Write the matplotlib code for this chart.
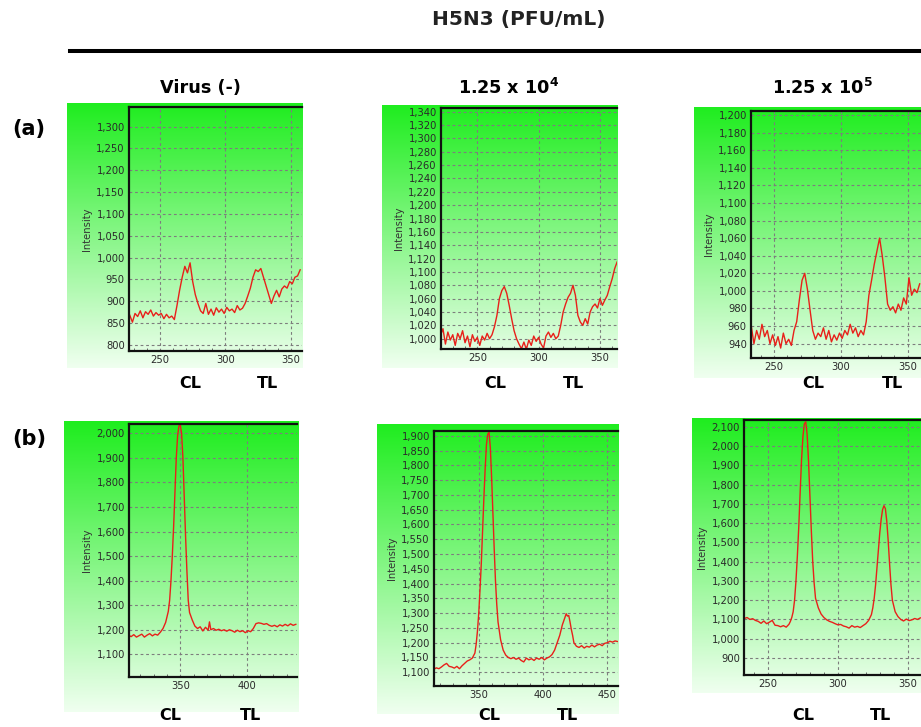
import numpy as np
import matplotlib
matplotlib.use("Agg")
import matplotlib.pyplot as plt
from matplotlib.ticker import FuncFormatter, MultipleLocator

plt.rcParams["font.family"] = ["DejaVu Sans"]
plt.rcParams["mathtext.fontset"] = "dejavusans"

W, H = 921, 727

# ---- data (x = position, y = intensity) ----
a1_x = [227, 229, 231, 233, 235, 237, 239, 241, 243, 245, 247, 249, 251, 253, 255, 257, 259, 261, 263, 265,
        267, 269, 271, 273, 275, 277, 279, 281, 283, 285, 287, 289, 291, 293, 295, 297, 299, 301, 303, 305,
        307, 309, 311, 313, 315, 317, 319, 321, 323, 325, 327, 329, 331, 333, 335, 337, 339, 341, 343, 345,
        347, 349, 351, 353, 355, 357]
a1_y = [868, 852, 872, 865, 878, 862, 876, 870, 880, 866, 874, 868, 872, 860, 870, 862, 866, 858, 890, 925,
        955, 980, 965, 988, 945, 915, 895, 878, 872, 895, 870, 882, 868, 885, 875, 882, 872, 886, 878, 882,
        874, 890, 880, 884, 895, 912, 930, 955, 972, 968, 975, 955, 935, 915, 895, 912, 925, 910, 928, 935,
        930, 945, 940, 955, 958, 972]

a2_x = [220, 222, 224, 226, 228, 230, 232, 234, 236, 238, 240, 242, 244, 246, 248, 250, 252, 254, 256, 258,
        260, 262, 264, 266, 268, 270, 272, 274, 276, 278, 280, 282, 284, 286, 288, 290, 292, 294, 296, 298,
        300, 302, 304, 306, 308, 310, 312, 314, 316, 318, 320, 322, 324, 326, 328, 330, 332, 334, 336, 338,
        340, 342, 344, 346, 348, 350, 352, 354, 356, 358, 360, 362, 364]
a2_y = [1005, 1015, 992, 1010, 998, 1006, 990, 1008, 1000, 1012, 994, 1004, 988, 1006, 996, 1002, 990, 1004,
        998, 1008, 1000, 1006, 1018, 1035, 1060, 1072, 1078, 1068, 1050, 1030, 1012, 1000, 992, 985, 995, 984,
        998, 990, 1004, 996, 1002, 992, 986, 1004, 1010, 1002, 1008, 1000, 1004, 1020, 1040, 1052, 1062, 1068,
        1080, 1065, 1035, 1025, 1020, 1030, 1022, 1040, 1048, 1052, 1046, 1060, 1050, 1058, 1065, 1078, 1090,
        1105, 1115]

a3_x = [233, 235, 237, 239, 241, 243, 245, 247, 249, 251, 253, 255, 257, 259, 261, 263, 265, 267, 269, 271,
        273, 275, 277, 279, 281, 283, 285, 287, 289, 291, 293, 295, 297, 299, 301, 303, 305, 307, 309, 311,
        313, 315, 317, 319, 321, 323, 325, 327, 329, 331, 333, 335, 337, 339, 341, 343, 345, 347, 349, 351,
        353, 355, 357, 359]
a3_y = [960, 940, 955, 945, 962, 948, 955, 940, 950, 938, 948, 935, 952, 940, 945, 938, 955, 965, 990, 1012,
        1020, 1002, 978, 955, 945, 952, 948, 958, 945, 955, 942, 950, 944, 952, 946, 955, 950, 962, 952, 958,
        948, 955, 950, 965, 995, 1012, 1030, 1045, 1060, 1040, 1015, 985, 978, 982, 975, 985, 978, 992, 985,
        1015, 995, 1002, 998, 1008]

b1_x = [311, 313, 315, 317, 319, 321, 323, 325, 327, 329, 331, 333, 335, 337, 339, 341, 342, 343, 344, 345,
        346, 347, 348, 349, 350, 351, 352, 353, 354, 355, 356, 357, 359, 361, 363, 365, 367, 369, 371, 372,
        373, 375, 377, 379, 381, 383, 385, 387, 389, 391, 393, 395, 397, 399, 401, 403, 405, 407, 409, 411,
        413, 415, 417, 419, 421, 423, 425, 427, 429, 431, 433, 435, 437]
b1_y = [1178, 1172, 1180, 1170, 1176, 1182, 1170, 1178, 1184, 1175, 1182, 1178, 1190, 1205, 1230, 1275, 1320,
        1400, 1500, 1620, 1760, 1900, 1990, 2030, 2035, 2000, 1900, 1740, 1580, 1440, 1320, 1270, 1240, 1215,
        1205, 1212, 1195, 1210, 1198, 1232, 1200, 1205, 1198, 1202, 1196, 1200, 1194, 1200, 1196, 1190, 1198,
        1192, 1196, 1188, 1196, 1192, 1205, 1225, 1228, 1226, 1222, 1225, 1218, 1214, 1218, 1212, 1220, 1215,
        1222, 1216, 1224, 1218, 1222]

b2_x = [315, 317, 319, 321, 323, 325, 327, 329, 331, 333, 335, 337, 339, 341, 343, 345, 347, 348, 349, 350,
        351, 352, 353, 354, 355, 356, 357, 358, 359, 360, 361, 362, 363, 364, 365, 367, 369, 371, 373, 375,
        377, 379, 381, 383, 385, 387, 389, 391, 393, 395, 397, 399, 401, 403, 405, 407, 409, 411, 413, 415,
        417, 418, 419, 420, 421, 422, 423, 424, 426, 428, 430, 432, 434, 436, 438, 440, 442, 444, 446, 448,
        450, 452, 454, 456, 458]
b2_y = [1110, 1115, 1112, 1118, 1125, 1130, 1120, 1118, 1114, 1120, 1112, 1122, 1130, 1138, 1142, 1148, 1165,
        1195, 1240, 1300, 1380, 1470, 1580, 1690, 1790, 1870, 1905, 1912, 1860, 1760, 1640, 1520, 1410, 1330,
        1270, 1210, 1175, 1158, 1150, 1146, 1150, 1144, 1148, 1140, 1135, 1148, 1142, 1146, 1140, 1148, 1144,
        1150, 1142, 1148, 1152, 1160, 1175, 1200, 1225, 1260, 1285, 1298, 1290, 1292, 1270, 1245, 1225, 1200,
        1188, 1184, 1190, 1182, 1188, 1185, 1192, 1186, 1192, 1195, 1190, 1198, 1200, 1205, 1202, 1206, 1204]

b3_x = [233, 235, 237, 239, 241, 243, 245, 247, 249, 251, 253, 255, 257, 259, 261, 263, 265, 266, 267, 268,
        269, 270, 271, 272, 273, 274, 275, 276, 277, 278, 279, 280, 281, 282, 283, 284, 286, 288, 290, 292,
        294, 296, 298, 300, 302, 304, 306, 308, 310, 312, 314, 316, 318, 320, 322, 324, 325, 326, 327, 328,
        329, 330, 331, 332, 333, 334, 335, 336, 337, 338, 339, 341, 343, 345, 347, 349, 351, 353, 355, 357,
        359]
b3_y = [1105, 1110, 1100, 1104, 1095, 1090, 1080, 1092, 1078, 1086, 1095, 1070, 1068, 1062, 1068, 1060, 1075,
        1090, 1110, 1140, 1200, 1300, 1430, 1580, 1760, 1930, 2050, 2115, 2125, 2060, 1920, 1740, 1560, 1400,
        1290, 1210, 1160, 1128, 1110, 1098, 1090, 1085, 1078, 1072, 1074, 1066, 1062, 1055, 1068, 1060, 1064,
        1058, 1068, 1078, 1095, 1125, 1160, 1210, 1280, 1370, 1460, 1550, 1620, 1670, 1690, 1675, 1610, 1510,
        1390, 1280, 1200, 1140, 1115, 1100, 1092, 1102, 1094, 1098, 1105, 1100, 1108]

col_titles = ["Virus (-)", r"1.25 x 10$^{\mathbf{4}}$", r"1.25 x 10$^{\mathbf{5}}$"]
row_labels = ["(a)", "(b)"]

# panel layout in pixels: background box, axes box, xlim, ylim, y step, x ticks, CL/TL label x, label y
panels = [
    dict(x=a1_x, y=a1_y, bg=(67, 103, 302, 368), ax=(129, 107, 302, 351), xlim=(226.4, 358.4),
         ylim=(786, 1345), ystep=50, xt=[250, 300, 350], cl=(190, 267, 383)),
    dict(x=a2_x, y=a2_y, bg=(382, 105, 617, 368), ax=(441, 108, 617, 349), xlim=(220.4, 363.9),
         ylim=(984.6, 1345.5), ystep=20, xt=[250, 300, 350], cl=(495, 573, 383)),
    dict(x=a3_x, y=a3_y, bg=(694, 107, 921, 378), ax=(751, 111, 921, 358), xlim=(232.8, 360),
         ylim=(923.7, 1204.5), ystep=20, xt=[250, 300, 350], cl=(813, 892, 384)),
    dict(x=b1_x, y=b1_y, bg=(64, 421, 298, 712), ax=(129, 424, 297, 677), xlim=(311.4, 437.9),
         ylim=(1007.5, 2038), ystep=100, xt=[350, 400], cl=(170, 250, 715)),
    dict(x=b2_x, y=b2_y, bg=(377, 424, 618, 714), ax=(434, 431, 618, 686), xlim=(315.2, 458.3),
         ylim=(1053.6, 1916), ystep=50, xt=[350, 400, 450], cl=(489, 567, 715)),
    dict(x=b3_x, y=b3_y, bg=(692, 418, 921, 693), ax=(744, 420, 921, 675), xlim=(232.8, 359.5),
         ylim=(811.8, 2134.7), ystep=100, xt=[250, 300, 350], cl=(803, 880, 716)),
]


def rect(box):
    x0, y0, x1, y1 = box
    return [x0 / W, 1 - y1 / H, (x1 - x0) / W, (y1 - y0) / H]


def fx(px):
    return px / W


def fy(py):
    return 1 - py / H


fig = plt.figure(figsize=(W / 100, H / 100), dpi=100)

top = np.array([0.12, 0.93, 0.12])
bot = np.array([0.94, 1.0, 0.94])
t = np.linspace(0, 1, 256)[:, None]
grad = (top[None, :] * (1 - t) + bot[None, :] * t)[:, None, :]

for p in panels:
    bg = fig.add_axes(rect(p["bg"]))
    bg.imshow(grad, aspect="auto", extent=[0, 1, 0, 1], interpolation="bilinear")
    bg.set_axis_off()

    ax = fig.add_axes(rect(p["ax"]))
    ax.patch.set_alpha(0)
    ax.plot(p["x"], p["y"], color="#e8201a", lw=1.0)
    ax.set_xlim(*p["xlim"])
    ax.set_ylim(*p["ylim"])
    ax.set_xticks(p["xt"])
    ax.xaxis.set_minor_locator(MultipleLocator(10))
    ax.yaxis.set_major_locator(MultipleLocator(p["ystep"]))
    ax.yaxis.set_major_formatter(FuncFormatter(lambda v, _: f"{v:,.0f}"))
    ax.grid(True, ls=(0, (2.5, 2.5)), color="#7d7d7d", lw=0.8)
    ax.tick_params(which="major", length=0, labelsize=7.2, colors="#2a2a2a", pad=3)
    ax.tick_params(which="minor", length=2, color="#555555", direction="in")
    ax.tick_params(axis="y", which="minor", length=0)
    for s in ["left", "top", "bottom"]:
        ax.spines[s].set_linewidth(1.6)
        ax.spines[s].set_color("#111111")
    ax.spines["right"].set_visible(False)
    ax.set_ylabel("Intensity", fontsize=7.2, color="#333333", labelpad=3)

    cx, tx, ly = p["cl"]
    fig.text(fx(cx), fy(ly), "CL", ha="center", va="center", fontsize=11.5, fontweight="bold")
    fig.text(fx(tx), fy(ly), "TL", ha="center", va="center", fontsize=11.5, fontweight="bold")

fig.text(fx(519), fy(19), "H5N3 (PFU/mL)", ha="center", va="center", fontsize=14.5, fontweight="bold",
         color="#222222")
fig.add_artist(plt.Line2D([fx(70), fx(921)], [fy(51), fy(51)], color="black", lw=2.9))

for cx, title in zip([200, 509, 822], col_titles):
    fig.text(fx(cx), fy(88), title, ha="center", va="center", fontsize=12.7, fontweight="bold")

for ry, lab in zip([129, 439], row_labels):
    fig.text(fx(29), fy(ry), lab, ha="center", va="center", fontsize=15, fontweight="bold")

fig.savefig("out.png", dpi=100)
